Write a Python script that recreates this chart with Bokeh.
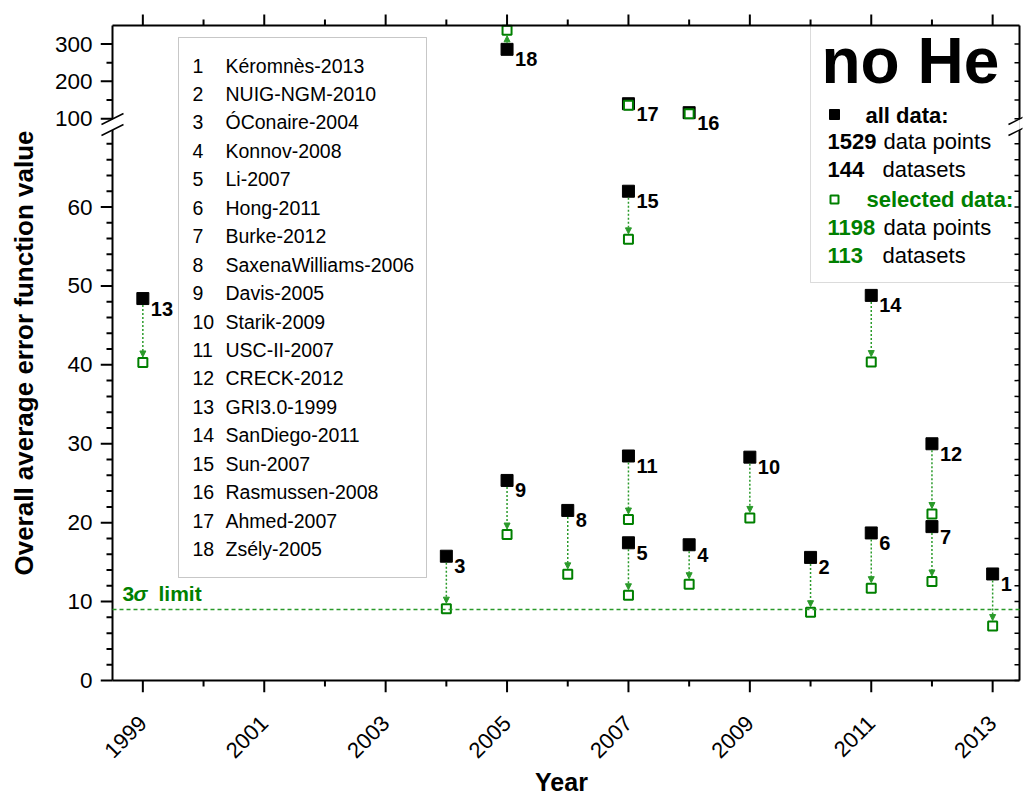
import math
from bokeh.plotting import figure
from bokeh.models import (Range1d, FixedTicker, ColumnDataSource,
                          Arrow, NormalHead, BoxAnnotation)
from bokeh.core.properties import value
from bokeh.embed import file_html
from bokeh.resources import INLINE

# ---------------- data ----------------
numbers = list(range(1, 19))
models = ["Kéromnès-2013", "NUIG-NGM-2010", "ÓConaire-2004", "Konnov-2008", "Li-2007",
          "Hong-2011", "Burke-2012", "SaxenaWilliams-2006", "Davis-2005", "Starik-2009",
          "USC-II-2007", "CRECK-2012", "GRI3.0-1999", "SanDiego-2011", "Sun-2007",
          "Rasmussen-2008", "Ahmed-2007", "Zsély-2005"]
years = [2013, 2010, 2004, 2008, 2007, 2011, 2012, 2006, 2005, 2009,
         2007, 2012, 1999, 2011, 2007, 2008, 2007, 2005]
all_data = [13.5, 15.6, 15.75, 17.2, 17.45, 18.7, 19.5, 21.55, 25.35, 28.3,
            28.45, 30.0, 48.4, 48.8, 62.0, 116.0, 140.0, 286.0]
selected_data = [6.9, 8.65, 9.1, 12.2, 10.8, 11.7, 12.55, 13.45, 18.5, 20.6,
                 20.4, 21.1, 40.3, 40.35, 55.9, 113.0, 136.0, 337.0]
x_major = [1999, 2001, 2003, 2005, 2007, 2009, 2011, 2013]
x_minor = [2000, 2002, 2004, 2006, 2008, 2010, 2012]
y_lower_major = [0, 10, 20, 30, 40, 50, 60]
y_lower_minor = [2, 4, 6, 8, 12, 14, 16, 18, 22, 24, 26, 28, 32, 34, 36, 38,
                 42, 44, 46, 48, 52, 54, 56, 58, 62, 64, 66, 68]
y_upper_major = [100, 200, 300]
y_upper_minor = [150, 250]
sigma_limit = 9.0
all_points, all_sets = "1529", "144"
sel_points, sel_sets = "1198", "113"

# ---------------- layout constants (screen pixels) ----------------
FONT = "Liberation Sans"
GREEN = "#008000"
GREEN_L = "#2a9a2a"
AX_L, AX_R, AX_T, AX_B = 112, 1019, 25, 680     # visible axes box
PAD = 12                                          # room for outward ticks
FRAME_L, FRAME_T = AX_L - PAD, AX_T - PAD
FRAME_W = 1022 - FRAME_L
FRAME_H = (AX_B + PAD) - FRAME_T
PX_PER_YEAR = 60.7
VIS_X0 = 1998.5
X0 = VIS_X0 - PAD / PX_PER_YEAR
X1 = X0 + FRAME_W / PX_PER_YEAR
VIS_LO1 = 83.0
LO_PX = (AX_B - AX_T) / VIS_LO1
LO0 = -PAD / LO_PX
LO1 = LO0 + FRAME_H / LO_PX
VIS_UP1 = 350.0
UP_PX = 0.3725
UP1 = VIS_UP1 + PAD / UP_PX
UP0 = UP1 - FRAME_H / UP_PX
BREAK = 75.0


def sx(px):
    return X0 + (px - FRAME_L) / PX_PER_YEAR


def sy(py):
    return LO1 - (py - FRAME_T) / LO_PX


def up_to_lo(v):
    return round(LO0 + (v - UP0) / (UP1 - UP0) * (LO1 - LO0), 4)


XL, XR, YB, YT = sx(AX_L), sx(AX_R), sy(AX_B), sy(AX_T)

p = figure(frame_width=FRAME_W, frame_height=FRAME_H,
           x_range=Range1d(X0, X1), y_range=Range1d(LO0, LO1),
           min_border_left=FRAME_L, min_border_top=FRAME_T,
           min_border_right=1, min_border_bottom=104,
           output_backend="svg", toolbar_location=None,
           background_fill_color="white", border_fill_color="white")
p.extra_y_ranges = {"upper": Range1d(UP0, UP1)}
p.outline_line_color = None
p.xgrid.visible = False
p.ygrid.visible = False

# ---------------- axes (labels only; lines and ticks drawn below) ----------------
yt_major = y_lower_major + [up_to_lo(v) for v in y_upper_major]
yt_minor = y_lower_minor + [up_to_lo(v) for v in y_upper_minor]
overrides = {}
for v in y_lower_major:
    overrides[float(v)] = str(v)
for v in y_upper_major:
    overrides[up_to_lo(v)] = str(v)


def style_axis(ax):
    ax.axis_line_color = None
    ax.major_tick_line_color = None
    ax.minor_tick_line_color = None
    ax.major_tick_out = 0
    ax.major_tick_in = 0
    ax.minor_tick_out = 0
    ax.minor_tick_in = 0
    ax.major_label_text_font = FONT
    ax.axis_label_text_font = FONT
    ax.axis_label_text_font_style = "bold"
    ax.major_label_text_color = "black"
    ax.axis_label_text_color = "black"


xa = p.xaxis[0]
xa.ticker = FixedTicker(ticks=x_major)
style_axis(xa)
xa.major_label_orientation = math.pi / 4
xa.major_label_text_font_size = "22px"
xa.major_label_standoff = 27
xa.axis_label = "Year"
xa.axis_label_text_font_size = "25px"
xa.axis_label_standoff = 0

ya = p.yaxis[0]
ya.ticker = FixedTicker(ticks=yt_major)
style_axis(ya)
ya.major_label_text_font_size = "22.5px"
ya.major_label_standoff = 8
ya.major_label_overrides = overrides
ya.axis_label = "Overall average error function value"
ya.axis_label_text_font_size = "26px"
ya.axis_label_standoff = 13


def seg(x0, y0, x1, y1, color="black", width=2.0, source=None, dash="solid"):
    kw = dict(x_start=x0, y_start=y0, x_end=x1, y_end=y1, start=None, end=None,
              line_color=color, line_width=width, line_dash=dash)
    if source is not None:
        kw["source"] = source
    p.add_layout(Arrow(**kw))


def tick_source(pos, a0, a1):
    return ColumnDataSource(dict(pos=pos, a0=[a0] * len(pos), a1=[a1] * len(pos)))


# axis box lines with breaks on left and right
BRK_HI, BRK_LO = 118.5, 129.5
seg(XL, YB, XR, YB)
seg(XL, YT, XR, YT)
for xa_ in (XL, XR):
    seg(xa_, YB, xa_, sy(BRK_LO))
    seg(xa_, sy(BRK_HI), xa_, YT)

# bottom ticks (outward)
seg("pos", "a0", "pos", "a1", source=tick_source(x_major, YB, YB - 12 / LO_PX))
seg("pos", "a0", "pos", "a1", source=tick_source(x_minor, YB, YB - 6 / LO_PX))
# top ticks (outward)
seg("pos", "a0", "pos", "a1", source=tick_source(x_major, YT, YT + 11 / LO_PX))
seg("pos", "a0", "pos", "a1", source=tick_source(x_minor, YT, YT + 6 / LO_PX))
# left ticks (outward)
seg("a0", "pos", "a1", "pos", source=tick_source(yt_major, XL, XL - 12 / PX_PER_YEAR))
seg("a0", "pos", "a1", "pos", source=tick_source(yt_minor, XL, XL - 6 / PX_PER_YEAR))
# right ticks (inward)
seg("a0", "pos", "a1", "pos", width=1.5,
    source=tick_source(yt_major + yt_minor, XR, XR - 5 / PX_PER_YEAR))

# break slashes
for ax_px in (AX_L, AX_R):
    for dy0 in (0, 11):
        seg(sx(ax_px - 11), sy(124 + dy0), sx(ax_px + 11), sy(113 + dy0), width=1.5)

# ---------------- boxes ----------------
p.add_layout(BoxAnnotation(left=sx(178), right=sx(426), top=sy(37), bottom=sy(577),
                           fill_color="white", fill_alpha=1.0, line_color="#444444",
                           line_width=1, level="underlay"))
p.add_layout(BoxAnnotation(left=sx(810), right=XR, top=YT, bottom=sy(282),
                           fill_color="white", fill_alpha=1.0, line_color="#888888",
                           line_width=1, level="underlay"))

# ---------------- 3 sigma line ----------------
seg(XL, sigma_limit, XR, sigma_limit, color=GREEN_L, width=1.5, dash="4 3")
p.text(x=[sx(122)], y=[sy(593)], text=["3"], text_font=value(FONT), text_font_style="bold",
       text_font_size="21px", text_color=GREEN, text_baseline="middle", text_align="left")
p.text(x=[sx(133)], y=[sy(593)], text=["σ"], text_font=value(FONT), text_font_style="bold italic",
       text_font_size="21px", text_color=GREEN, text_baseline="middle", text_align="left")
p.text(x=[sx(158)], y=[sy(593)], text=["limit"], text_font=value(FONT), text_font_style="bold",
       text_font_size="21px", text_color=GREEN, text_baseline="middle", text_align="left")

# ---------------- data marks ----------------
for group, rname, scale in (("lo", "default", LO_PX), ("up", "upper", UP_PX)):
    idx = [i for i in range(len(numbers))
           if (all_data[i] < BREAK) == (group == "lo")]
    xs = [years[i] for i in idx]
    a = [all_data[i] for i in idx]
    s = [selected_data[i] for i in idx]
    n = [str(numbers[i]) for i in idx]
    src = ColumnDataSource(dict(x=xs, a=a, s=s, n=n))

    ax_, y0_, y1_ = [], [], []
    for xi, ai, si in zip(xs, a, s):
        dpx = (ai - si) * scale
        if abs(dpx) > 14:
            sg = 1 if dpx > 0 else -1
            ax_.append(xi)
            y0_.append(ai - sg * 6.5 / scale)
            y1_.append(si + sg * 5.5 / scale)
    asrc = ColumnDataSource(dict(x=ax_, y0=y0_, y1=y1_))
    p.add_layout(Arrow(source=asrc, x_start="x", y_start="y0", x_end="x", y_end="y1",
                       line_color=GREEN_L, line_width=1.5, line_dash="2 2",
                       end=NormalHead(size=6, fill_color=GREEN_L, line_color=GREEN_L, line_width=1),
                       y_range_name=rname))

    p.scatter("x", "a", source=src, marker="square", size=12, fill_color="black",
              line_color="black", y_range_name=rname)
    p.scatter("x", "s", source=src, marker="square", size=9, fill_color="white",
              line_color=GREEN, line_width=2, y_range_name=rname)
    p.text("x", "a", text="n", source=src, x_offset=8, y_offset=10,
           text_font=value(FONT), text_font_style="bold", text_font_size="20px",
           text_color="black", text_baseline="middle", text_align="left",
           y_range_name=rname)

# ---------------- left legend (model list) ----------------
row_y = [sy(65 + 28.45 * i) for i in range(len(numbers))]
p.text(x=[sx(192)] * len(numbers), y=row_y, text=[str(k) for k in numbers],
       text_font=value(FONT), text_font_size="19.5px", text_color="black",
       text_baseline="middle", text_align="left")
p.text(x=[sx(225)] * len(numbers), y=row_y, text=models,
       text_font=value(FONT), text_font_size="19.5px", text_color="black",
       text_baseline="middle", text_align="left")

# ---------------- right info box ----------------
p.text(x=[sx(821)], y=[sy(60)], text=["no He"], text_font=value(FONT),
       text_font_style="bold", text_font_size="64px", text_color="black",
       text_baseline="middle", text_align="left")
p.scatter(x=[sx(834)], y=[sy(114)], marker="square", size=10,
          fill_color="black", line_color="black")
p.scatter(x=[sx(834)], y=[sy(199)], marker="square", size=8,
          fill_color="white", line_color=GREEN, line_width=2)


def info_text(px, py, txt, color="black", style="normal"):
    p.text(x=[sx(px)], y=[sy(py)], text=[txt], text_font=value(FONT),
           text_font_style=style, text_font_size="22px", text_color=color,
           text_baseline="middle", text_align="left")


info_text(865, 115, "all data:", style="bold")
info_text(827, 141, all_points, style="bold")
info_text(883, 141, "data points")
info_text(827, 169, all_sets, style="bold")
info_text(882, 169, "datasets")
info_text(866, 199, "selected data:", color=GREEN, style="bold")
info_text(827, 227, sel_points, color=GREEN, style="bold")
info_text(883, 227, "data points")
info_text(827, 255, sel_sets, color=GREEN, style="bold")
info_text(882, 255, "datasets")

open("out.html", "w").write(file_html(p, INLINE))
